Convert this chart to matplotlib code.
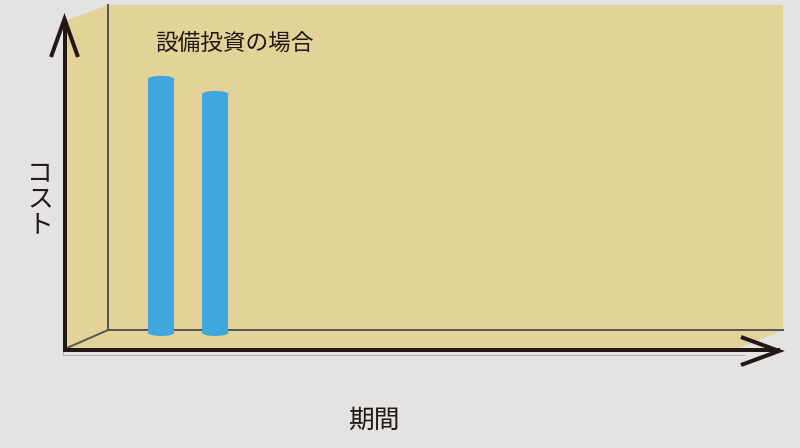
import matplotlib
matplotlib.use("Agg")
import matplotlib.pyplot as plt
from matplotlib.patches import Polygon, Ellipse
from matplotlib.lines import Line2D

plt.rcParams['font.family'] = ['Noto Sans CJK JP', 'DejaVu Sans']

# ---- data ----
periods = [2, 4]          # position along the period axis
costs = [77.3, 72.7]      # cost of each investment (relative units)
bar_width = 0.98
title_text = "設備投資の場合"
ylabel_text = "コ\nス\nト"
xlabel_text = "期間"

# ---- colours ----
BG = "#e3e3e3"
TAN = "#e4d399"
BLUE = "#40a6de"
DARK = "#231815"
EDGE = "#595757"

W, H = 800, 448
fig = plt.figure(figsize=(W / 100, H / 100), dpi=100, facecolor=BG)

# decoration layer in pixel coordinates
deco = fig.add_axes([0, 0, 1, 1])
deco.set_xlim(0, W)
deco.set_ylim(H, 0)
deco.axis("off")

box = Polygon([(67, 20), (108, 5), (783, 5), (783, 330), (737, 349), (67, 349)],
              closed=True, facecolor=TAN, edgecolor="none", zorder=1)
deco.add_patch(box)

px = 0.72  # points per pixel
deco.add_line(Line2D([108, 108], [5, 330], color=EDGE, lw=2 * px, zorder=2))
deco.add_line(Line2D([108, 783], [330, 330], color=EDGE, lw=2 * px, zorder=2))
deco.add_line(Line2D([67, 108], [348, 330], color=EDGE, lw=2 * px, zorder=2))

# light shadow outline
deco.add_line(Line2D([62.5, 62.5], [30, 355], color="#b0b0b0", lw=1 * px, zorder=2))
deco.add_line(Line2D([62.5, 745], [355, 355], color="#b0b0b0", lw=1 * px, zorder=2))

# axis arrows
deco.add_line(Line2D([64.5, 64.5], [352, 19], color=DARK, lw=4 * px, zorder=3,
                     solid_capstyle="butt"))
deco.add_line(Line2D([51, 64.5, 78], [57, 19, 57], color=DARK, lw=4 * px, zorder=3,
                     solid_joinstyle="miter", solid_capstyle="butt"))
deco.add_line(Line2D([62.5, 780], [350.5, 350.5], color=DARK, lw=4 * px, zorder=3,
                     solid_capstyle="butt"))
deco.add_line(Line2D([741, 779, 741], [337, 351, 365], color=DARK, lw=4 * px, zorder=3,
                     solid_joinstyle="miter", solid_capstyle="butt"))

# texts
deco.text(234, 43, title_text, fontsize=16.3, color=DARK, ha="center", va="center", zorder=4)
deco.text(40, 199.5, ylabel_text, fontsize=18.5, color=DARK, ha="center", va="center",
          linespacing=0.98, zorder=4)
deco.text(374, 421, xlabel_text, fontsize=18.5, color=DARK, ha="center", va="center", zorder=4)

# data axes over the back wall: floor at y=332.5 px, top at y=5 px
left, right = 107 / W, 783 / W
bottom = (H - 332.5) / H
top = (H - 5) / H
ax = fig.add_axes([left, bottom, right - left, top - bottom])
ax.set_xlim(0, 25)
ax.set_ylim(0, 100)
ax.patch.set_alpha(0)
ax.axis("off")
ax.set_zorder(5)

ax.bar(periods, costs, width=bar_width, color=BLUE, edgecolor="none", zorder=2)
ell_h = 7.0 / 3.275  # ~7 px in data units
for xv, yv in zip(periods, costs):
    ax.add_patch(Ellipse((xv, yv), bar_width, ell_h, facecolor=BLUE, edgecolor="none",
                         zorder=3, clip_on=False))
    ax.add_patch(Ellipse((xv, 0), bar_width, ell_h, facecolor=BLUE, edgecolor="none",
                         zorder=3, clip_on=False))

fig.savefig("out.png", dpi=100, facecolor=BG)
